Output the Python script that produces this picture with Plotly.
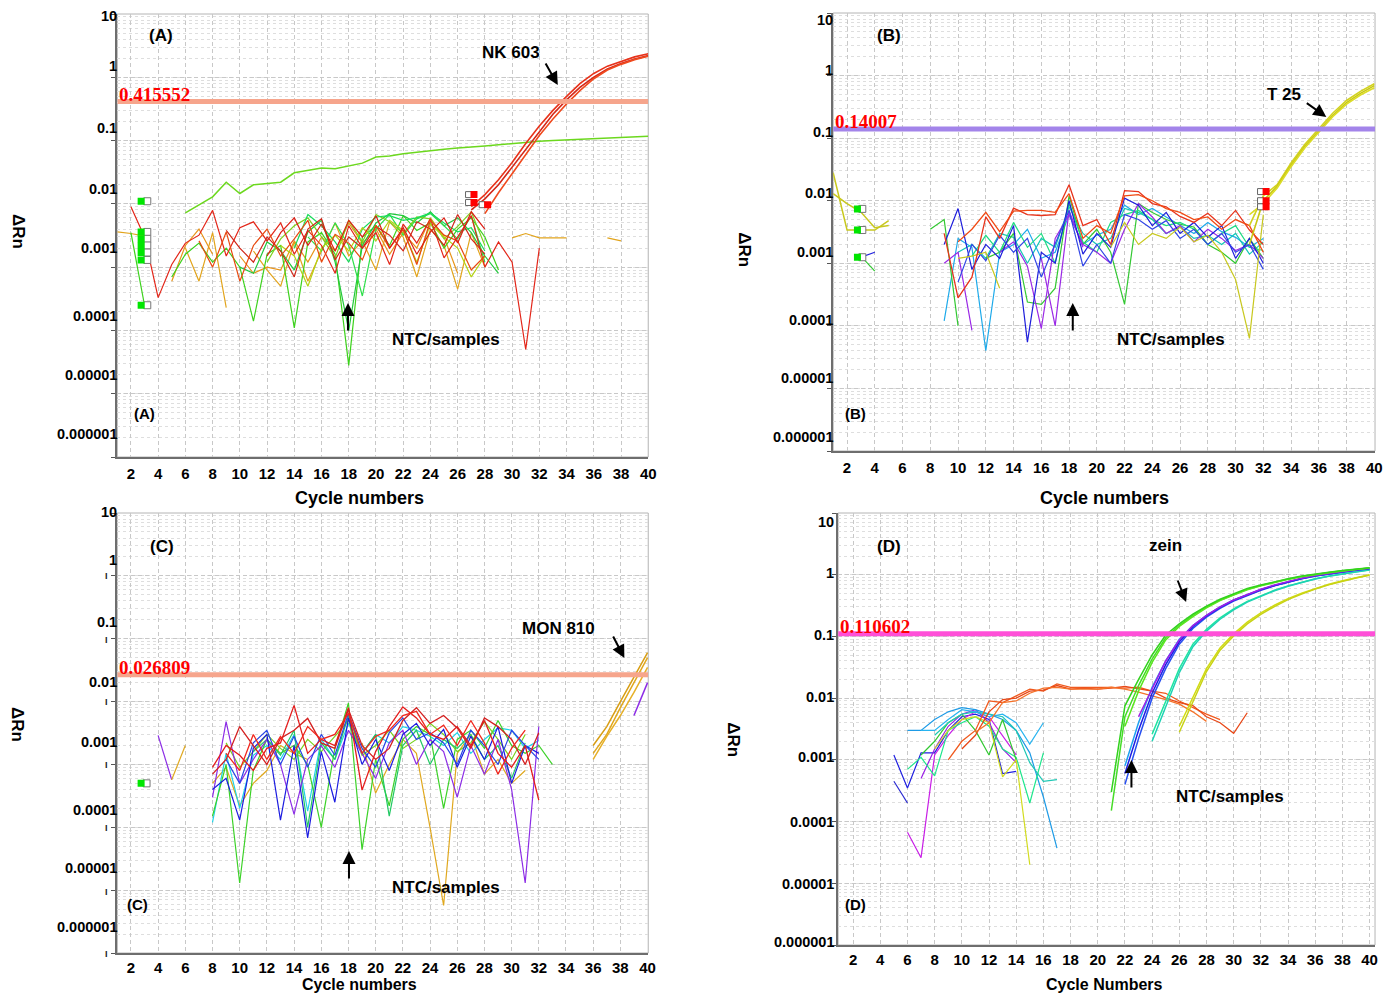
import math
import plotly.graph_objects as go

W, H = 1386, 995
SANS = "Liberation Sans, Arial, Helvetica, sans-serif"
SERIF = "Liberation Serif, Times New Roman, serif"

# ---------------- tick labels / thresholds ----------------
CYCLE_TICKS = list(range(2, 41, 2))
Y_DECADES = [10, 1, 0.1, 0.01, 0.001, 0.0001, 0.00001, 0.000001]
Y_TICK_TEXT = ["10", "1", "0.1", "0.01", "0.001", "0.0001", "0.00001", "0.000001"]
THRESHOLDS = {"A": 0.415552, "B": 0.14007, "C": 0.026809, "D": 0.110602}
THRESHOLD_TEXT = {"A": "0.415552", "B": "0.14007", "C": "0.026809", "D": "0.110602"}

# ---------------- data: ΔRn in units of 1e-3 (None = no reading) ----------------
# Panel A (NK 603)
A_red1 = [9.0, 3.0, 0.33, 1.1, 2.4, 3.2, 7.9, 1.5, 4.2, 5.2, 2.6, 5.0, 1.6, 3.8, 2.2, 0.8, 4.5, 2.0, 3.5, 1.1, 4.8, 2.4, 5.8, 1.4, 3.0, 6.5, 1.0, 2.5, 1.2, 0.05, 2.0]
A_red2 = [3.8, 2.0, 1.2, 3.0, 1.8, 0.7, 4.0, 5.8, 1.3, 3.0, 2.0, 4.4, 3.2, 1.8, 5.2, 4.0, 2.2, 6.8, 2.8, 1.6]
A_red3 = [2.6, 1.0, 3.6, 0.6, 2.2, 4.0, 1.5, 2.8, 5.5, 1.2, 3.3, 2.4, 1.3, 4.6, 2.0, 3.9, 1.1, 5.5, 3.2, 2.6, 0.9, 1.5]
A_red4 = [1.5, 3.5, 6.0, 2.2, 4.8, 1.8, 5.5, 3.0, 6.5, 2.0, 4.2, 1.6, 3.6, 6.0, 2.4, 7.5, 4.0]
A_gold1 = [3.6, 3.4, 3.1, None, None, 2.0, 0.6, 3.5, 0.23, None, 1.8, 0.9, 0.5, 2.5, 0.6, 1.8, 5.0, 1.5, 2.6, 0.9, 5.2, 3.0, 0.7, 4.0, 2.2, 0.45, 3.5, 1.0, None, 2.9, 3.4, 2.9, 2.9, 2.9]
A_gold2 = [2.9, 2.6]
A_green1 = [3.5, 0.25, None, 0.7, 1.6, 2.4, 1.2, 2.0, 1.0, 0.14, 1.6, 2.2, 0.11, 2.5, 3.5, 1.6, 0.028, 3.0, 4.5, 2.2, 6.5, 3.8, 5.0, 2.0, 4.0, 6.0, 3.0, 0.9]
A_green2 = [1.0, 0.8, 2.5, 1.8, 0.9, 3.6, 5.5, 1.2, 0.1, 2.2, 5.0, 7.0, 6.5, 5.0, 7.5, 4.5, 6.0, 3.5, 1.5, 0.8]
A_green4 = [3.0, 1.8, 5.0, 2.2, 0.35, 4.0, 6.8, 3.2, 5.8, 7.0, 4.5, 2.8, 6.5, 1.2]
A_lime1 = [1.2, 2.8, 4.5, 6.0, 3.0, 1.4, 5.5, 2.5, 6.8, 5.2, 3.4, 6.2, 5.8, 2.8, 4.4, 7.5, 2.2]
A_green3 = [2.0, 6.8, 4.5, 2.5, 1.2, 4.0, 6.2, 6.5, 5.5, 6.0, 7.2, 5.0, 3.6, 4.2, 1.8]
A_ygreen = [2.2, 1.5, 0.5, 2.0, 3.2, 1.8, 4.2, 2.6, 5.5, 3.8, 1.2, 4.8, 3.0, 2.0, 0.7, 1.5]
A_orange1 = [0.6, 2.2, 4.0, 1.6, None, 1.5, 0.8, 1.0, 0.9, 2.6, 1.2, 3.0, 1.8, 5.0, 2.4, 4.0, 1.6, 3.5, 2.0, 6.0, 3.0, 0.8]
A_rise = [7.2, 9.5, 12.9, 22, 14.6, 20, 21, 22, 31, 34, 37, 36, 40, 44, 55, 57, 62, 66, 70, 73, 76, 78, 82, 86, 90, 95, 98, 100, 102, 105, 107, 110, 113, 115, 117]
A_nk1 = [9, 14, 24, 45, 90, 170, 300, 500, 800, 1150, 1500, 1800, 2100, 2350]
A_nk2 = [8, 12, 20, 38, 75, 140, 260, 440, 700, 1000, 1350, 1650, 1950, 2200]
A_nk3 = [7, 15, 30, 60, 120, 220, 380, 620, 950, 1300, 1600, 1900, 2150]

# Panel B (T 25)
B_red1 = [3.0, 0.28, 0.6, 5.5, 2.5, 7.6, 6.0, 5.8, 6.0, 18, 4.0, 5.0, 2.0, 14.5, 14, 9.0, 8.0, 5.6, 4.5, 6.3, 4.0, 7.0, 3.4, 2.0]
B_red2 = [2.2, 3.5, 6.5, 3.2, 6.8, 7.0, 7.0, 6.5, 13, 2.5, 4.0, 3.0, 12, 12.5, 10, 7.5, 6.5, 5.0, 5.5, 3.5, 5.0, 4.0, 1.5]
B_blue1 = [2.0, 7.5, 0.8, 2.0, 1.2, 4.0, 0.055, 1.5, 1.0, 10, 1.4, 3.0, 1.8, 11, 8.5, 4.0, 6.5, 3.0, 4.5, 2.6, 4.0, 1.2, 2.5, 1.0]
B_blue2 = [0.5, 2.0, 1.1, 2.8, 1.5, 2.5, 0.6, 2.0, 7.0, 0.9, 2.0, 1.0, 6.0, 5.0, 3.5, 4.8, 2.5, 3.5, 2.0, 3.0, 1.5, 2.0, 0.8]
B_teal1 = [1.5, 2.0, 1.2, 3.0, 2.6, 1.0, 2.5, 1.8, 8.0, 3.0, 2.0, 2.5, 7.5, 6.5, 5.0, 3.0, 3.8, 2.5, 2.8, 2.0, 3.0, 1.4, 2.2]
B_purple1 = [1.0, 1.5, 0.085]
B_purple2 = [1.5, 2.2, 0.9, 0.09, 2.5, 6.0, 2.0, 1.5, 1.0, 3.5, 9.0, 5.5, 3.0, 4.0, 2.2, 3.5, 2.5, 1.6, 2.0, 1.2]
B_purple3 = [1.2, 0.1, 7.0, 1.8]
B_cyan1 = [0.12, 2.5, 1.8, 0.04, 1.5, 2.0, 3.5, 1.2, 1.5, 6.0, 2.0, 2.8, 3.5, 8.5, 6.0, 7.5, 5.5, 4.0, 3.0, 4.5, 3.2, 2.6, 1.8, 2.5]
B_green1 = [3.5, 5.0, 0.1]
B_green2 = [1.2, 1.5, 3.0, 0.24, 0.22, 0.4, 12, 2.0, 3.5, 1.5, 0.22, 9.0, 6.5, 5.0, 4.2, 3.8, 2.0, 1.5, 1.0, 2.5, 1.2]
B_spring1 = [1.3, 2.8, 1.5, 4.5, 1.8, 3.0, 1.0, 9.0, 2.2, 1.5, 4.5, 6.0, 7.0, 5.0, 4.0, 4.5, 3.5, 2.0, 3.0, 4.0, 1.8, 1.6]
B_yellow1 = [1.2, 1.3, 1.5, 0.4]
B_yellow2 = [1.8, 4.5, 2.0, 3.0, 2.5, 3.8, 2.2, 2.8, 1.5, 0.55, 0.063, 6.0]
B_yleft1 = [28, 3.4, 3.4, 3.4, 4.8]
B_yleft2 = [13, 9.0, 6.6, 3.7, 4.0]
B_gleft = [1.3, 0.75]
B_bleft = [1.25, 1.5]
B_t25_1 = [4, 12, 18, 40, 80, 140, 250, 400, 560, 740]
B_t25_2 = [2, 10, 17, 37, 74, 130, 230, 370, 520, 690]
B_t25_3 = [6, 9, 16, 35, 70, 125, 220, 350, 490, 640]

# Panel C (MON 810)
C_red1 = [0.9, 2.0, 1.4, 0.8, 1.8, 2.2, 8.7, 1.5, 2.5, 2.0, 8.0, 0.39, 1.6, 4.0, 8.2, 5.5, 3.0, 2.5, 4.0, 2.0, 5.0, 1.5, 0.9, 2.0, 0.27]
C_red2 = [0.7, 1.2, 4.0, 2.0, 1.0, 2.6, 3.5, 5.4, 2.2, 1.8, 7.5, 2.0, 1.2, 1.8, 5.0, 8.0, 4.5, 6.0, 3.8, 1.8, 5.5, 4.0, 2.5, 1.0, 3.2]
C_red3 = [1.5, 0.8, 3.0, 1.2, 2.8, 1.5, 4.0, 2.5, 3.0, 6.5, 1.5, 2.8, 3.5, 6.0, 7.0, 3.0, 4.2, 2.0, 5.0, 2.2, 0.7, 1.8, 3.5]
C_blue1 = [0.4, 0.6, 0.13, 1.8, 3.0, 0.13, 2.0, 0.068, 1.6, 0.25, 5.5, 1.0, 2.5, 0.8, 3.0, 4.5, 2.0, 3.6, 0.9, 2.8, 1.2, 4.0, 0.5, 2.0, 1.5]
C_blue2 = [1.2, 0.5, 2.2, 3.5, 1.0, 2.8, 0.9, 3.0, 1.4, 6.5, 1.8, 0.9, 3.2, 5.5, 2.5, 3.2, 2.2, 1.0, 3.5, 2.0, 1.0, 3.5, 2.0, 1.2]
C_purple1 = [0.3, 4.8, 0.5, 1.2, 2.5, 1.0, 0.16, 1.2, 2.0, 0.9, 3.5, 1.5, 0.6, 2.2, 3.5, 1.0, 2.5, 1.6, 0.3, 2.0, 0.7, 2.5, 0.4, 0.013, 4.0]
C_cyan1 = [0.12, 1.5, 0.2, 1.4, 2.0, 1.2, 3.0, 0.18, 2.5, 1.2, 4.5, 1.5, 3.0, 2.2, 4.0, 3.5, 2.8, 2.0, 3.2, 1.5, 2.5, 3.8, 3.5, 1.8, 2.4]
C_green1 = [0.15, 1.0, 0.013, 0.8, 2.5, 1.5, 2.0, 1.0, 0.1, 1.8, 9.5, 0.044, 1.2, 0.22, 2.5, 4.0, 3.0, 0.2, 2.5, 3.5, 1.8, 5.0, 2.0, 1.5, 2.0, 1.0]
C_lime1 = [2.2, 0.9, 1.6, 3.0, 1.8, 1.2, 2.5, 1.6, 2.8, 5.0, 1.4, 2.0, 3.5, 1.8, 2.5, 4.5, 3.0, 1.6, 2.2, 4.8, 2.5, 1.2, 3.0]
C_gold1 = [0.5, 0.9, 0.22, 0.5, 0.8, 2.0, 1.5, 1.2, None, None, None, 2.2, 0.35, 1.0, 2.5, 1.5, 0.1, 0.0057, 1.5, 3.0, 0.7, 1.2, 0.5, 0.8]
C_green2 = [1.6, 2.5, 1.4, 3.5, 0.1, 2.2, 1.2, 6.0, 1.5, 3.0, 0.15, 2.0, 3.5, 1.0, 2.5, 1.8, 3.0, 1.2, 2.0, 0.6, 2.2]
C_pleft = [2.9, 0.57]
C_gleft = [0.57, 2.0]
C_mon1 = [1.5, 3.0, 8.0, 20, 50]
C_mon2 = [2.0, 4.0, 10, 25, 60]
C_mon3 = [1.2, 2.8, 6.0, 14, 35]
C_monp = [6.0, 20]

# Panel D (zein)
D_blue1 = [1.2, 0.35, 1.3, 1.3, 3.0, 5.0, 5.5, 4.5, 0.6, 0.65]
D_blue2 = [0.45, 0.2]
D_purple1 = [0.067, 0.026, 1.2, 2.5, 4.5, 6.0, 5.0, 2.5, 1.2]
D_purple2 = [0.5, 1.5, 3.5, 5.5, 6.5, 4.0, 1.5, 0.9]
D_cyan1 = [3.0, 3.0, 4.5, 6.0, 7.0, 6.5, 5.5, 4.5, 3.0, 1.3, 0.25, 0.037]
D_spring1 = [0.7, 1.1, 0.55, 3.0, 4.0, 5.0, 3.5, 1.5, 1.1, 0.2, 1.3]
D_green1 = [1.2, 2.0, 4.0, 5.5, 3.0, 1.2, 4.5, 1.0]
D_yellow1 = [1.5, 3.0, 4.5, 5.0, 4.0, 0.53, 1.0, 0.02]
D_teal1 = [2.5, 4.0, 5.5, 6.0, 5.5, 5.0, 3.0, 0.9, 0.45, 0.48]
D_cyan2 = [3.0, 3.0, 4.5, 6.5, 6.0, 5.0, 5.5, 4.0, 1.8, 4.0]
D_orange1 = [1.0, 2.0, 3.0, 9.0, 8.5, 11, 14, 13, 17, 15, 15, 15, 15, 14.5, 15, 13, 12, 9, 7, 5.5, 4.5]
D_orange2 = [1.5, 2.5, 6.0, 9.5, 10, 13, 13.5, 16, 14, 14.5, 14, 14.5, 15.5, 14, 13, 10, 8.5, 7.6, 5.0, 4.0, 2.7, 5.8]
D_orange3 = [2.8, 4.0, 8.5, 9.0, 12, 14.5, 15, 14, 14, 14, 15, 14, 12.5, 11, 9.5, 8.0, 6.0, 4.2]
D_zgreen1 = [0.3, 7.5, 20, 50, 105, 160, 230, 310, 400, 490, 600, 680, 770, 860, 950, 1030, 1100, 1170, 1230, 1300]
D_zgreen2 = [0.15, 5.0, 16, 43, 95, 150, 220, 300, 390, 480, 580, 670, 760, 850, 940, 1020, 1090, 1160, 1220, 1290]
D_zgreen3 = [3.5, 13, 38, 88, 145, 210, 290, 380, 470, 570, 660, 750, 840, 930, 1010, 1080, 1150, 1210, 1280]
D_zpurple = [5.0, 14, 40, 88, 150, 220, 300, 390, 480, 580, 680, 780, 880, 970, 1050, 1130, 1200, 1270]
D_zblue1 = [0.6, 3.0, 12, 35, 82, 145, 215, 295, 385, 475, 570, 670, 770, 870, 960, 1040, 1120, 1190, 1260]
D_zblue2 = [0.4, 2.2, 10, 30, 75, 135, 205, 285, 375, 465, 560, 660, 760, 860, 950, 1030, 1110, 1180, 1250]
D_zcyan = [0.8, 4.0, 15, 40, 90, 150, 220, 300, 390, 480, 575, 670, 765, 860, 950, 1030, 1110, 1180, 1250]
D_zteal1 = [2.6, 9.0, 30, 75, 130, 200, 280, 370, 460, 560, 660, 760, 860, 950, 1040, 1120, 1200]
D_zteal2 = [2.0, 7.5, 26, 68, 122, 190, 270, 360, 450, 550, 650, 750, 850, 940, 1030, 1110, 1190]
D_zyellow1 = [3.5, 10, 30, 65, 110, 170, 240, 320, 410, 500, 600, 700, 800, 900, 1000]
D_zyellow2 = [2.8, 8.5, 27, 60, 102, 160, 228, 305, 395, 485, 585, 685, 785, 885, 980]

# flag markers (software well markers): cycle positions and values (1e-3 units)
A_flag_x = [2.75, 3.2]
A_flag_vals = [11, 3.6, 2.8, 2.2, 1.7, 1.3, 0.25]
A_red_flag_x = [27.2, 27.2, 28.2]
A_red_flag_vals = [14, 10.5, 9.7]
B_flag_x = [2.75, 3.1]
B_flag_vals = [7.4, 3.4, 1.25]
B_red_flag_x = [32.2, 32.2, 32.2]
B_red_flag_vals = [14, 10, 8]
C_flag_x = [2.75, 3.15]
C_flag_vals = [0.5]

# ---------------- series registry: (panel, start cycle, values, colour, width) ----------------
SERIES = [
    ("A", 1, A_gold1, "#e2a41c", 1.2), ("A", 37, A_gold2, "#e2a41c", 1.2),
    ("A", 5, A_orange1, "#e8941a", 1.2),
    ("A", 2, A_green1, "#3cd21c", 1.2), ("A", 10, A_green2, "#22c83e", 1.2),
    ("A", 15, A_green4, "#2ee04a", 1.2),
    ("A", 12, A_lime1, "#7ed21e", 1.2), ("A", 14, A_green3, "#18dc5a", 1.2),
    ("A", 13, A_ygreen, "#b4d214", 1.2),
    ("A", 2, A_red1, "#e32619", 1.2), ("A", 9, A_red2, "#d0281a", 1.2), ("A", 7, A_red3, "#e84a10", 1.2),
    ("A", 12, A_red4, "#dc1e14", 1.2),
    ("A", 6, A_rise, "#6cd81e", 1.5),
    ("A", 27, A_nk1, "#e8321a", 1.6), ("A", 27, A_nk2, "#d4281a", 1.6), ("A", 28, A_nk3, "#f04a1e", 1.6),

    ("B", 1, B_yleft1, "#c8c81e", 1.5), ("B", 1, B_yleft2, "#c8c81e", 1.5),
    ("B", 3, B_gleft, "#32c832", 1.2), ("B", 3, B_bleft, "#2020e0", 1.2),
    ("B", 9, B_cyan1, "#1eaaea", 1.2), ("B", 10, B_teal1, "#14c8b4", 1.2), ("B", 8, B_green1, "#32c832", 1.2),
    ("B", 12, B_green2, "#32c832", 1.2), ("B", 11, B_spring1, "#1edc82", 1.2),
    ("B", 9, B_purple1, "#9a28e6", 1.2), ("B", 13, B_purple2, "#9a28e6", 1.2), ("B", 16, B_purple3, "#9a28e6", 1.2),
    ("B", 9, B_blue1, "#1e1edc", 1.2), ("B", 10, B_blue2, "#3246e6", 1.2),
    ("B", 10, B_yellow1, "#c8c81e", 1.2), ("B", 21, B_yellow2, "#c8c81e", 1.2),
    ("B", 9, B_red1, "#e8341c", 1.3), ("B", 10, B_red2, "#f04a14", 1.3),
    ("B", 31, B_t25_1, "#d2d21e", 1.6), ("B", 31, B_t25_2, "#c8c814", 1.6), ("B", 31, B_t25_3, "#dcdc28", 1.6),

    ("C", 4, C_pleft, "#8c2ce6", 1.2), ("C", 5, C_gleft, "#e0a81e", 1.2),
    ("C", 8, C_gold1, "#e0a81e", 1.2), ("C", 8, C_cyan1, "#1ed2e6", 1.2),
    ("C", 8, C_green1, "#3cd228", 1.2), ("C", 9, C_lime1, "#78d21e", 1.2), ("C", 11, C_green2, "#22c864", 1.2),
    ("C", 8, C_purple1, "#8c2ce6", 1.2), ("C", 8, C_blue1, "#1c1ce0", 1.2), ("C", 9, C_blue2, "#2846e6", 1.2),
    ("C", 8, C_red1, "#e41c1c", 1.3), ("C", 8, C_red2, "#d42020", 1.3), ("C", 9, C_red3, "#f0281e", 1.3),
    ("C", 36, C_mon1, "#e0a81e", 1.5), ("C", 36, C_mon2, "#d89e14", 1.5), ("C", 36, C_mon3, "#e6b028", 1.5),
    ("C", 39, C_monp, "#8c2ce6", 1.5),

    ("D", 5, D_blue1, "#2020e0", 1.2), ("D", 5, D_blue2, "#2828d0", 1.2),
    ("D", 6, D_purple1, "#c81ee6", 1.2), ("D", 7, D_purple2, "#9a1ee6", 1.2),
    ("D", 6, D_cyan1, "#1e9be6", 1.2), ("D", 6, D_spring1, "#1ee68c", 1.2),
    ("D", 7, D_green1, "#32c832", 1.2), ("D", 8, D_yellow1, "#d2dc1e", 1.2),
    ("D", 8, D_teal1, "#1ec8b4", 1.2), ("D", 7, D_cyan2, "#28b4f0", 1.2),
    ("D", 9, D_orange1, "#f05a1e", 1.3), ("D", 10, D_orange2, "#e84818", 1.3), ("D", 11, D_orange3, "#f5732a", 1.3),
    ("D", 26, D_zyellow1, "#d2dc14", 1.5), ("D", 26, D_zyellow2, "#c8d214", 1.5),
    ("D", 24, D_zteal1, "#1ee6a0", 1.5), ("D", 24, D_zteal2, "#1ed2b4", 1.5),
    ("D", 22, D_zcyan, "#1ea0f0", 1.5), ("D", 22, D_zblue2, "#2850f0", 1.5), ("D", 22, D_zblue1, "#1e1ee6", 1.5),
    ("D", 23, D_zpurple, "#a01ee6", 1.5),
    ("D", 21, D_zgreen2, "#46dc28", 1.5), ("D", 22, D_zgreen3, "#5ae61e", 1.5), ("D", 21, D_zgreen1, "#32d21e", 1.5),
]

# ---------------- layout geometry (pixels) ----------------
GEOM = {
    "A": dict(x=(118, 652), y=(14, 457), xr=(1, 40)),
    "B": dict(x=(838, 1383), y=(13, 451), xr=(1, 40.05)),
    "C": dict(x=(118, 652), y=(513, 953), xr=(1, 40.05)),
    "D": dict(x=(843, 1383), y=(513, 945), xr=(0.9, 40.4)),
}
THR_COLOR = {"A": "#f6a58c", "B": "#a384ea", "C": "#f6a58c", "D": "#ff4fd8"}
SUFFIX = {"A": "", "B": "2", "C": "3", "D": "4"}
TICK_STANDOFF = {"A": 2, "B": 2, "C": 0, "D": 0}


def pxx(x):
    return x / W


def pyy(y):
    return 1 - y / H


fig = go.Figure()


def ax(k):
    s = SUFFIX[k]
    return "x" + s, "y" + s


for panel, start, vals, color, width in SERIES:
    xa, ya = ax(panel)
    xs = list(range(start, start + len(vals)))
    ys = [None if v is None else v * 1e-3 for v in vals]
    fig.add_trace(go.Scatter(x=xs, y=ys, mode="lines", line=dict(color=color, width=width),
                             xaxis=xa, yaxis=ya, connectgaps=False, showlegend=False, hoverinfo="skip"))

# threshold lines
for k in "ABCD":
    xa, ya = ax(k)
    xr = GEOM[k]["xr"]
    t = THRESHOLDS[k]
    fig.add_trace(go.Scatter(x=[xr[0], xr[1]], y=[t, t], mode="lines",
                             line=dict(color=THR_COLOR[k], width=5),
                             xaxis=xa, yaxis=ya, showlegend=False, hoverinfo="skip"))


def flags(panel, xpair, vals, fill):
    xa, ya = ax(panel)
    ys = [v * 1e-3 for v in vals]
    fig.add_trace(go.Scatter(x=[xpair[1]] * len(ys), y=ys, mode="markers",
                             marker=dict(symbol="square", size=7, color="white", line=dict(color="#777", width=1)),
                             xaxis=xa, yaxis=ya, showlegend=False, hoverinfo="skip"))
    fig.add_trace(go.Scatter(x=[xpair[0]] * len(ys), y=ys, mode="markers",
                             marker=dict(symbol="square", size=7, color=fill, line=dict(width=0)),
                             xaxis=xa, yaxis=ya, showlegend=False, hoverinfo="skip"))


flags("A", A_flag_x, A_flag_vals, "#00e600")
flags("B", B_flag_x, B_flag_vals, "#00e600")
flags("C", C_flag_x, C_flag_vals, "#00e600")

for panel, xs, vals in (("A", A_red_flag_x, A_red_flag_vals), ("B", B_red_flag_x, B_red_flag_vals)):
    xa, ya = ax(panel)
    fig.add_trace(go.Scatter(x=[x - 0.4 for x in xs], y=[v * 1e-3 for v in vals], mode="markers",
                             marker=dict(symbol="square", size=6, color="white", line=dict(color="#666", width=1)),
                             xaxis=xa, yaxis=ya, showlegend=False, hoverinfo="skip"))
    fig.add_trace(go.Scatter(x=xs, y=[v * 1e-3 for v in vals], mode="markers",
                             marker=dict(symbol="square", size=7, color="#ff0000", line=dict(width=0)),
                             xaxis=xa, yaxis=ya, showlegend=False, hoverinfo="skip"))

# ---------------- axes ----------------
layout = dict(width=W, height=H, autosize=False, margin=dict(l=0, r=0, t=0, b=0),
              paper_bgcolor="white", plot_bgcolor="white", showlegend=False)
shapes = []
for k in "ABCD":
    g = GEOM[k]
    s = SUFFIX[k]
    layout["xaxis" + s] = dict(
        domain=[pxx(g["x"][0]), pxx(g["x"][1])], range=list(g["xr"]), anchor="y" + s,
        tickmode="array", tickvals=CYCLE_TICKS, ticks="", showline=True, linecolor="#6e6e6e", linewidth=2,
        showgrid=True, gridcolor="#c8c8c8", griddash="4px,3px", gridwidth=1, zeroline=False,
        tickfont=dict(family=SANS, size=15, color="black", weight="bold"), ticklabelstandoff=TICK_STANDOFF[k])
    layout["yaxis" + s] = dict(
        domain=[pyy(g["y"][1]), pyy(g["y"][0])], type="log", range=[-6, 1], anchor="x" + s,
        tickmode="array", tickvals=Y_DECADES, showticklabels=False, ticks="outside", ticklen=4,
        tickcolor="#555", showline=True, linecolor="#6e6e6e", linewidth=2,
        showgrid=True, gridcolor="#c8c8c8", griddash="4px,3px", gridwidth=1, zeroline=False,
        minor=dict(showgrid=True, dtick="D1", gridcolor="#dedede", griddash="3px,3px", gridwidth=1, ticks=""))
    shapes.append(dict(type="rect", xref="x%s domain" % s, yref="y%s domain" % s, x0=0, x1=1, y0=0, y1=1,
                       line=dict(color="#b4b4b4", width=1), layer="below"))
layout["shapes"] = shapes

# ---------------- annotations ----------------
ann = []


def text(t, x, y, size=17, xanchor="center", color="black", family=SANS, angle=0):
    ann.append(dict(text=t, x=pxx(x), y=pyy(y), xref="paper", yref="paper", showarrow=False,
                    xanchor=xanchor, yanchor="middle", textangle=angle, borderpad=0,
                    font=dict(family=family, size=size, color=color)))


def arrow(hx, hy, tx, ty):
    ann.append(dict(text="", x=pxx(hx), y=pyy(hy), xref="paper", yref="paper", showarrow=True,
                    ax=tx - hx, ay=ty - hy, arrowhead=2, arrowsize=1.3, arrowwidth=2,
                    arrowcolor="black", standoff=0))


Y_LAB_PX = {
    "A": (119, [16, 66, 128, 189, 248, 316, 375, 434]),
    "B": (839, [20, 70, 132, 193, 252, 320, 378, 437]),
    "C": (119, [512, 560, 622, 682, 742, 810, 868, 927]),
    "D": (840, [522, 573, 635, 697, 757, 822, 884, 942]),
}
for k, (xr, ys) in Y_LAB_PX.items():
    for lab, y in zip(Y_TICK_TEXT, ys):
        text("<b>%s</b>" % lab, xr, y, size=14.5, xanchor="right")

for y in [576, 640, 702, 765, 828, 892, 954]:
    text("<b>I</b>", 107, y, size=9, color="#222")

# threshold labels
for k in "ABCD":
    s = SUFFIX[k]
    ann.append(dict(text="<b>%s</b>" % THRESHOLD_TEXT[k], xref="x%s domain" % s, yref="y" + s,
                    x=0, y=math.log10(THRESHOLDS[k]), xanchor="left", yanchor="middle", yshift=7,
                    showarrow=False, font=dict(family=SERIF, size=19, color="#ff0000")))

for t, x, y, sz in [
    ("<b>(A)</b>", 162, 35, 17), ("<b>(A)</b>", 145, 413, 15), ("<b>NK 603</b>", 514, 53, 17),
    ("<b>NTC/samples</b>", 449, 339, 17),
    ("<b>(B)</b>", 894, 35, 17), ("<b>(B)</b>", 860, 413, 15), ("<b>T 25</b>", 1291, 94, 17),
    ("<b>NTC/samples</b>", 1178, 339, 17),
    ("<b>(C)</b>", 163, 546, 17), ("<b>(C)</b>", 138, 904, 15), ("<b>MON 810</b>", 562, 628, 17),
    ("<b>NTC/samples</b>", 449, 887, 17),
    ("<b>(D)</b>", 894, 546, 17), ("<b>(D)</b>", 860, 904, 15), ("<b>zein</b>", 1172, 545, 17),
    ("<b>NTC/samples</b>", 1237, 796, 17),
    ("<b>Cycle numbers</b>", 362, 498, 18), ("<b>Cycle numbers</b>", 1111, 498, 18),
    ("<b>Cycle numbers</b>", 362, 984, 16), ("<b>Cycle Numbers</b>", 1111, 984, 16),
]:
    text(t, x, y, size=sz)

for x, y in [(18, 232), (748, 250), (18, 725), (738, 740)]:
    text("<b>ΔRn</b>", x, y, size=17, angle=90)

for hx, hy, tx, ty in [(561, 85, 548, 62), (1334, 117, 1313, 102), (628, 658, 616, 635), (1193, 602, 1184, 579),
                       (350, 303, 350, 332), (1079, 303, 1079, 332), (351, 851, 351, 880), (1138, 760, 1138, 789)]:
    arrow(hx, hy, tx, ty)

layout["annotations"] = ann
fig.update_layout(**layout)
fig.write_html("out.html", config={"displayModeBar": False},
               post_script="document.body.style.margin='0';document.body.style.overflow='hidden';")
